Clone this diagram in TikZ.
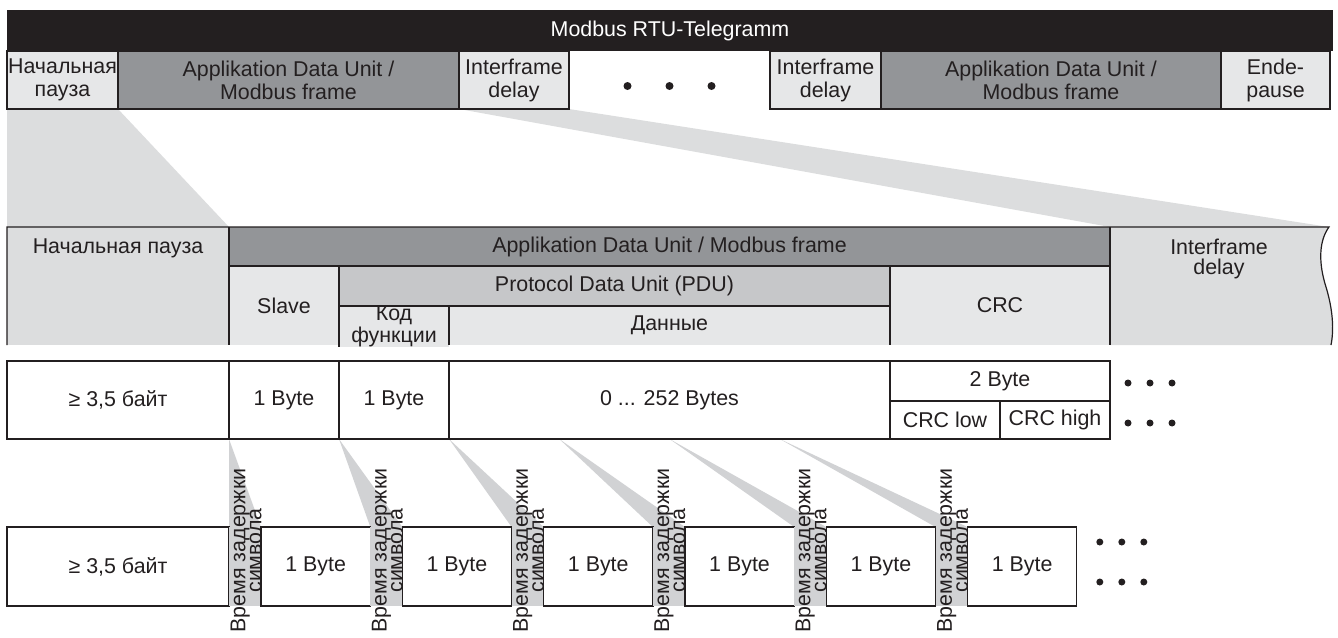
\documentclass[tikz,border=0pt]{standalone}
\usepackage{fontspec}
\setmainfont{Liberation Sans}
\usetikzlibrary{positioning,calc,backgrounds}
\definecolor{bandfill}{HTML}{231F20}
\definecolor{adufill}{HTML}{939598}
\definecolor{pdufill}{HTML}{C6C7C9}
\definecolor{cellfill}{HTML}{E6E7E8}
\definecolor{wedgefill}{HTML}{DCDDDE}
\definecolor{stripfill}{HTML}{D1D2D4}
\definecolor{rule}{HTML}{231F20}

\begin{document}
\begin{tikzpicture}[x=0.5pt, y=-0.5pt,
  box/.style={inner sep=0pt, outer sep=0pt, anchor=north west, align=center, text=rule, font=\fontsize{10.7}{11.5}\selectfont},
  framed/.style={box, draw=rule, line width=0.6pt},
  litecell/.style={framed, fill=cellfill},
  darkcell/.style={framed, fill=adufill},
  bytebox/.style={framed, fill=white},
  toprow/.style={minimum height=29pt},
  byterow/.style={minimum height=39.5pt},
  gridline/.style={draw=rule, line width=0.6pt},
  stripbox/.style={box, fill=stripfill, minimum width=16pt, minimum height=39.5pt},
  vtext/.style={rotate=90, inner sep=0pt, align=center, text=rule, font=\fontsize{10.7}{8}\selectfont}
]
  \useasboundingbox (0,0) rectangle (1338,637);

  % telegram overview
  \node[box, fill=bandfill, text=white, minimum width=663pt, minimum height=20.5pt] (band) at (7,10) {Modbus RTU-Telegramm};
  \node[litecell, toprow, minimum width=55.5pt] (tStart) at (7,51) {Начальная\\пауза};
  \node[darkcell, toprow, minimum width=170.5pt, right=0pt of tStart] (tAdu) {Applikation Data Unit /\\Modbus frame};
  \node[litecell, toprow, minimum width=55pt, right=0pt of tAdu] (tIfd) {Interframe\\delay};
  \node[box, toprow, minimum width=100.5pt, right=0pt of tIfd] (tGap) {};
  \node[litecell, toprow, minimum width=55.5pt, right=0pt of tGap] (tIfdB) {Interframe\\delay};
  \node[darkcell, toprow, minimum width=170pt, right=0pt of tIfdB] (tAduB) {Applikation Data Unit /\\Modbus frame};
  \node[litecell, toprow, minimum width=54.5pt, right=0pt of tAduB] (tEnd) {Ende-\\pause};
  \foreach \dx in {-21,0,21}
    \fill[rule] ([xshift=\dx pt, yshift=-3pt]tGap.center) circle (2pt);

  % frame structure
  \coordinate (ifdTop) at (1329,227);
  \coordinate (ifdBot) at (1331,345);
  \node[box, fill=wedgefill, minimum width=111pt, minimum height=59pt] (mStart) at (7,227) {};
  \node[box, anchor=center] (mStartText) at ([yshift=-10.5pt]mStart.north) {Начальная пауза};
  \node[box, fill=adufill, minimum width=440.5pt, minimum height=19.5pt] (mAdu) at (mStart.north east) {Applikation Data Unit / Modbus frame};
  \node[box, fill=cellfill, minimum width=55pt, minimum height=39.5pt] (mSlave) at (mAdu.south west) {Slave};
  \node[box, fill=pdufill, minimum width=275.5pt, minimum height=20pt] (mPdu) at (mSlave.north east) {Protocol Data Unit (PDU)};
  \node[box, fill=cellfill, minimum width=55pt, minimum height=19.5pt, font=\fontsize{10.7}{9.5}\selectfont] (mFunc) at (mPdu.south west) {Код\\функции};
  \node[box, fill=cellfill, minimum width=220.5pt, minimum height=19.5pt] (mData) at (mFunc.north east) {Данные};
  \node[box, fill=cellfill, minimum width=110pt, minimum height=39.5pt] (mCrc) at (mPdu.north east) {CRC};
  \fill[wedgefill] (mAdu.north east) -- (ifdTop) .. controls (1318,242) and (1319,265) .. (1326,287)
    .. controls (1333,310) and (1334,330) .. (ifdBot) -- (mCrc.south east) -- cycle;
  \node[box, anchor=center, font=\fontsize{10.7}{10}\selectfont] (mIfd) at (1219,259) {Interframe\\delay};
  \draw[gridline] (mStart.south west) -- (mStart.north west) -- (ifdTop)
    .. controls (1318,242) and (1319,265) .. (1326,287) .. controls (1333,310) and (1334,330) .. (ifdBot);
  \draw[gridline] (mAdu.north west) -- (mSlave.south west);
  \draw[gridline] (mAdu.south west) -- (mAdu.south east);
  \draw[gridline] (mPdu.north west) -- (mFunc.south west);
  \draw[gridline] (mPdu.south west) -- (mPdu.south east);
  \draw[gridline] (mData.north west) -- (mData.south west);
  \draw[gridline] (mCrc.north west) -- (mCrc.south west);
  \draw[gridline] (mAdu.north east) -- (mCrc.south east);

  % byte counts
  \node[bytebox, minimum width=111pt, minimum height=39pt] (bStart) at (7,361) {≥ 3,5 байт};
  \node[bytebox, minimum width=55pt, minimum height=39pt, right=0pt of bStart] (bSlave) {1 Byte};
  \node[bytebox, minimum width=55pt, minimum height=39pt, right=0pt of bSlave] (bFunc) {1 Byte};
  \node[bytebox, minimum width=220.5pt, minimum height=39pt, right=0pt of bFunc] (bData) {0 ... 252 Bytes};
  \node[bytebox, minimum width=110pt, minimum height=20pt] (bCrc) at (bData.north east) {2 Byte};
  \node[bytebox, minimum width=55pt, minimum height=19pt] (bLow) at (bCrc.south west) {CRC low};
  \node[bytebox, minimum width=55pt, minimum height=19pt, right=0pt of bLow] (bHigh) {CRC high};
  \foreach \dx in {9,20,31} {
    \fill[rule] ([xshift=\dx pt, yshift=-1pt]bCrc.east) circle (1.75pt);
    \fill[rule] ([xshift=\dx pt, yshift=-1.5pt]bHigh.east) circle (1.75pt);
  }

  % character timing
  \node[bytebox, byterow, minimum width=111pt] (c0) at (7,527) {≥ 3,5 байт};
  \foreach \i [remember=\i as \prev (initially 0)] in {1,...,6} {
    \node[stripbox, right=0pt of c\prev] (s\i) {};
    \node[bytebox, byterow, minimum width=54.65pt, right=0pt of s\i] (c\i) {1 Byte};
  }
  \coordinate (a1) at (bStart.south east);
  \coordinate (a2) at (bSlave.south east);
  \coordinate (a3) at (bFunc.south east);
  \coordinate (a4) at ($(bData.south west)!0.25!(bData.south east)$);
  \coordinate (a5) at ($(bData.south west)!0.5!(bData.south east)$);
  \coordinate (a6) at ($(bData.south west)!0.75!(bData.south east)$);
  \foreach \i in {1,...,6}
    \node[vtext] (v\i) at ([xshift=0.5pt, yshift=8pt]s\i.center) {Время задержки\\символа};
  \foreach \dx in {11.5,22.5,33.5} {
    \fill[rule] ([xshift=\dx pt, yshift=12.25pt]c6.east) circle (1.75pt);
    \fill[rule] ([xshift=\dx pt, yshift=-7.75pt]c6.east) circle (1.75pt);
  }

  \begin{scope}[on background layer]
    \fill[wedgefill] (tStart.south west) -- (tStart.south east) -- (mStart.north east) -- (mStart.north west) -- cycle;
    \fill[wedgefill] (tIfd.south west) -- (tIfd.south east) -- (ifdTop) -- (mAdu.north east) -- cycle;
    \foreach \i in {1,...,6}
      \fill[stripfill] (a\i) -- (s\i.north east) -- (s\i.north west) -- cycle;
  \end{scope}
\end{tikzpicture}
\end{document}
